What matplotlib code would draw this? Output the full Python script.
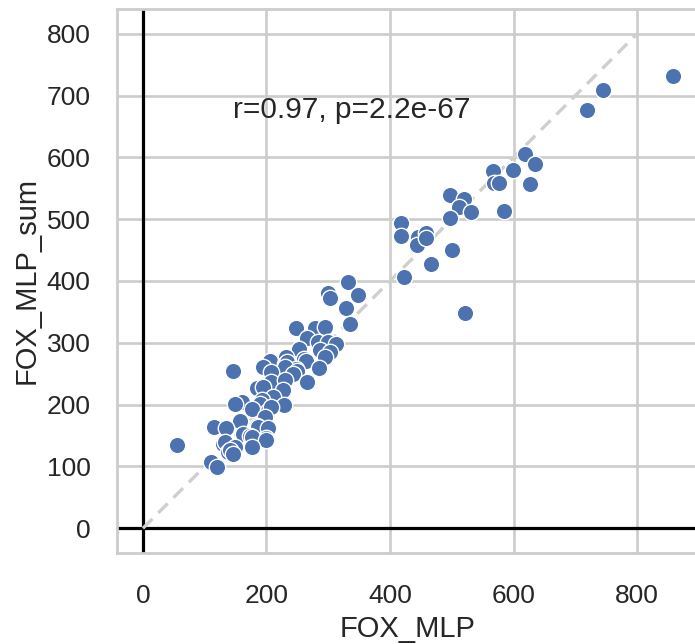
import numpy as np
import matplotlib
matplotlib.use('Agg')
import matplotlib.pyplot as plt
import seaborn as sns

# 읽어낸 데이터 (FOX_MLP, FOX_MLP_sum)
fox_mlp = [858, 744, 718, 619, 634, 599, 566, 569, 577, 626,
           497, 519, 511, 531, 497, 584, 417, 418, 445, 459,
           443, 459, 501, 467, 422, 522,
           332, 300, 302, 348, 328, 335,
           247, 278, 294, 265, 284, 300, 313, 253, 286, 302,
           232, 261, 294, 205, 230, 233, 264, 248, 285, 195,
           230, 250, 146, 243, 208, 265, 208, 230, 184, 195,
           226, 211, 192, 160, 149, 189, 176, 203, 228, 208,
           197, 157, 184, 115, 135, 186, 203, 162, 173, 199,
           176, 200, 130, 133, 176, 149, 55, 138, 141, 146,
           111, 120]
fox_mlp_sum = [731, 709, 677, 605, 589, 579, 578, 558, 558, 557,
               539, 533, 520, 512, 502, 513, 494, 473, 471, 477,
               458, 469, 450, 428, 406, 349,
               399, 381, 372, 378, 357, 330,
               324, 324, 325, 308, 301, 301, 298, 290, 288, 285,
               277, 273, 277, 271, 266, 269, 271, 258, 260, 261,
               261, 255, 254, 250, 252, 237, 236, 240, 227, 228,
               223, 212, 207, 204, 201, 201, 193, 190, 200, 196,
               180, 174, 166, 164, 163, 164, 162, 153, 150, 146,
               147, 143, 137, 139, 131, 131, 135, 123, 126, 120,
               108, 99]
r_text = 'r=0.97, p=2.2e-67'

sns.set_theme(style='whitegrid')
plt.rcParams['font.family'] = ['Liberation Sans', 'DejaVu Sans']

fig = plt.figure(figsize=(6.95, 6.44), dpi=100)
ax = fig.add_axes([0.1683, 0.1413, 0.8374, 0.8448])

ax.axhline(0, color='black', lw=2.3, zorder=1)
ax.axvline(0, color='black', lw=2.3, zorder=1)
ax.plot([0, 800], [0, 800], ls=(0, (4, 2.5)), color='#cfcfcf', lw=2.4, zorder=1)
sns.scatterplot(x=fox_mlp, y=fox_mlp_sum, ax=ax, s=140, color='#4c72b0',
                edgecolor='white', linewidth=1, zorder=3)

ax.text(0.2, 0.8, r_text, transform=ax.transAxes, fontsize=21.5, color='#262626')

ax.set_xlim(-42, 900)
ax.set_ylim(-40, 840)
ax.set_xticks([0, 200, 400, 600, 800])
ax.set_yticks(range(0, 801, 100))
ax.tick_params(axis='x', labelsize=19, pad=16, colors='#262626')
ax.tick_params(axis='y', labelsize=19, pad=13, colors='#262626')
ax.set_xlabel('FOX_MLP', fontsize=21, color='#262626', labelpad=5)
ax.set_ylabel('FOX_MLP_sum', fontsize=21, color='#262626')
ax.grid(True, color='#cccccc', lw=1.9)
for sp in ax.spines.values():
    sp.set_color('#cccccc')
    sp.set_linewidth(2)

plt.savefig('out.png', dpi=100)
